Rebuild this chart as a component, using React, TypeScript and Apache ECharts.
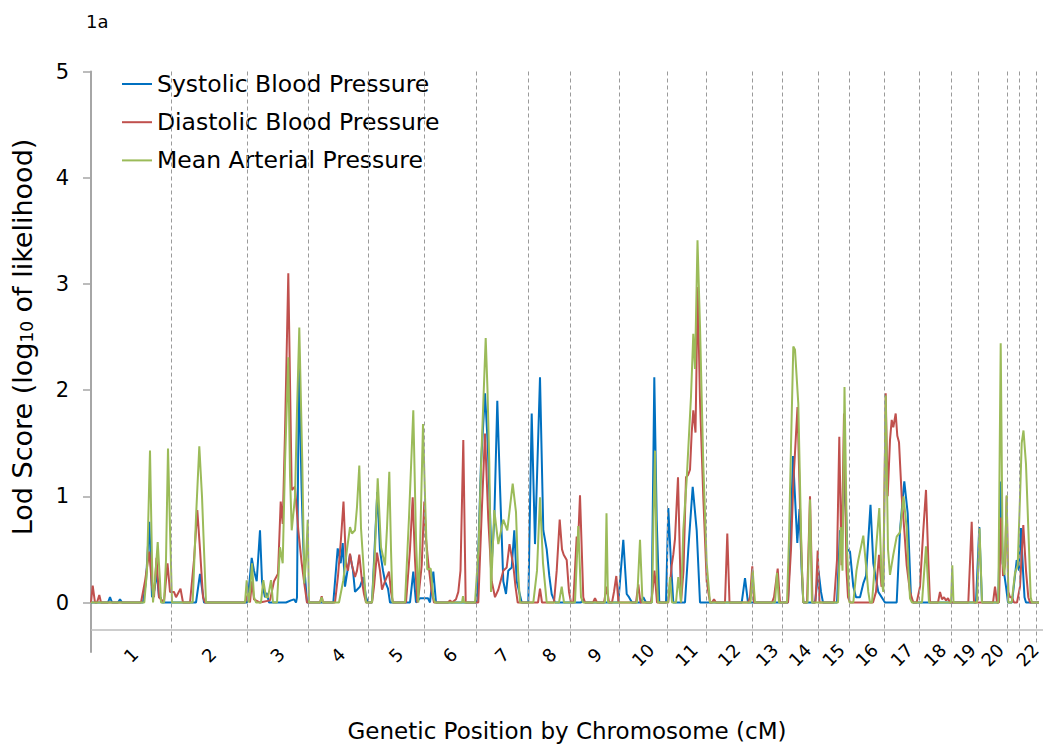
import React, { useEffect, useRef } from "react";
import * as echarts from "echarts";

// Chromosome names and their boundaries (genetic position, scaled cM units)
const chromosomes = ["1","2","3","4","5","6","7","8","9","10","11","12","13","14","15","16","17","18","19","20","21","22"];
const chromBounds = [0, 80, 156, 217, 277, 333, 385, 437, 479.5, 528, 576, 615, 661, 691, 727, 758, 793.5, 828, 860, 887, 916, 928, 945];
const yTicks = [0, 1, 2, 3, 4, 5];
const seriesNames = ["Systolic Blood Pressure", "Diastolic Blood Pressure", "Mean Arterial Pressure"];

// Systolic Blood Pressure LOD scores [position, LOD]
const sbp: number[][] = [
  [0,0],[17,0],[19,0.05],[21,0],[27,0],[29,0.03],[31,0],
  [52,0],[55,0.2],[58.3,0.76],[61,0.05],[63,0.1],[65.7,0.28],[68,0.05],[69.5,0.05],[71,0],
  [105,0],[109,0.27],[113,0],
  [156,0],[158,0.15],[160.7,0.42],[163,0.3],[165.7,0.2],[169,0.68],[171,0.2],[172.3,0.13],[174,0.05],[175.7,0.09],[178,0],
  [195,0],[200,0.02],[203,0.03],[205,0],[206,0.05],[208,2.27],[210.5,1.1],[212.3,0.52],[214,0.25],[216,0],
  [242.3,0],[246.7,0.51],[249.7,0.37],[251.7,0.56],[254,0.15],[259,0.45],[262,0.3],[264,0.1],[266,0.12],[269,0.15],[272.3,0.24],[275,0.05],[277,0],
  [281,0],[286.3,1.04],[289,0.49],[292,0.3],[294,0.2],[297,0.13],[299,0],
  [319,0],[322.3,0.29],[325,0],[329,0.04],[337,0.04],[339,0],[342.3,0.29],[345,0],
  [385.7,0],[390,1.31],[394,1.97],[396.7,1.5],[400.7,0.37],[403.3,0.78],[406.3,1.9],[409,1.09],[412.3,0.2],[415,0.08],[417.3,0.3],[420.7,0.33],[423.3,0.68],[425.7,0.2],[430.7,0],
  [437.3,0],[440.7,1.78],[444,0.55],[449,2.12],[452.3,0.68],[455.7,0.5],[458.3,0.25],[460.7,0.08],[464,0],
  [490,0],[492,0.03],[494,0],
  [527.3,0],[532.3,0.59],[535.7,0.08],[538,0.05],[541,0],[550,0],[552.3,0.05],[555,0],
  [560.7,0],[563.3,2.12],[565.7,0.78],[568.3,0],
  [575,0],[577.3,0.89],[580,0.37],[582.3,0],[594,0],[597.3,0.5],[601.7,1.09],[605.7,0.68],[609,0],
  [650.7,0],[654,0.23],[657,0],
  [697,0],[699.5,0.6],[702,1.38],[704.5,0.9],[706.3,0.56],[708.5,0.88],[710.7,0.3],[712.3,0],[724,0],[727.5,0.3],[730,0.1],[732,0],
  [746,0],[749,0.68],[751,0.6],[754,1.2],[756.3,0.5],[759,0.48],[762.3,0.15],[765,0.05],[769,0.05],[772.3,0.18],[775,0.25],[779.5,0.92],[782.3,0.37],[787.3,0.1],[794,0],
  [805.7,0],[809,0.68],[813.3,1.14],[816.7,0.84],[820,0.04],[822,0],
  [885,0],[888.3,0.71],[891,0],
  [907.3,0],[909.7,1.14],[911.7,0.37],[915,0.15],[917,0],
  [921,0],[925.7,0.4],[928,0.3],[930,0.7],[932,0.3],[933.5,0.05],[935,0],
  [948,0]
];

// Diastolic Blood Pressure LOD scores
const dbp: number[][] = [
  [0,0],[1.7,0.16],[4,0],[6,0],[8.3,0.07],[10,0],
  [50,0],[54,0.2],[58.3,0.48],[61,0.15],[63,0.05],[65.5,0.42],[68,0.05],[73,0],[76.5,0.37],[79,0.1],[81,0.1],[83,0.1],[85,0.05],[89.5,0.13],[92,0],
  [99,0],[103,0.4],[106.3,0.87],[109,0.5],[112,0.05],[114,0],
  [154,0],[157,0.08],[159,0],[161,0.2],[163,0.03],[169,0],[179,0.02],[183,0.2],[187,0.27],[189.7,0.95],[191.7,0.74],[194,1.6],[197.3,3.1],[200.7,1.06],[204,1.09],[207.3,0.68],[210.7,0.37],[213.3,0.18],[216,0],
  [229,0],[230.7,0.06],[232,0],[244,0],[247,0.25],[250,0.6],[252.5,0.95],[255,0.37],[257,0.3],[259,0.46],[261,0.35],[264,0.24],[266,0.3],[268.3,0.45],[271,0.2],[273,0.08],[275,0],
  [281,0],[283,0.15],[286,0.47],[289,0.3],[291,0.12],[294,0.2],[298,0.29],[300,0.1],[302,0],
  [315,0],[319,0.5],[321.7,0.99],[324,0.4],[326.3,0],[328,0.1],[330.7,0.35],[333.3,0.95],[335,0.6],[337.3,0.37],[340.7,0.1],[343,0],
  [357,0],[359,0.02],[361,0],[365,0.03],[367.3,0.1],[369.5,0.3],[372.3,1.53],[374.7,0],
  [387.3,0],[390.7,0.84],[394,1.59],[397.3,0.78],[400.7,0.2],[404,0.05],[407.3,0.12],[412.3,0.3],[415.7,0.33],[418.5,0.55],[422.3,0.35],[424.5,0.15],[426.7,0],
  [447,0],[449,0.13],[451,0],[463,0],[465.7,0.3],[468.7,0.78],[471,0.5],[472.7,0.45],[475.7,0.4],[478,0.1],[480,0],
  [482.3,0],[485.7,0.62],[487,0.55],[489,1.01],[492.3,0.05],[494,0],[502,0],[504,0.04],[506,0],[513,0],[515.7,0.15],[518,0],[521,0],[523,0.1],[525.3,0.25],[527.5,0],
  [545,0],[547.3,0.17],[549.5,0],[560,0],[561.5,0.1],[563.5,0.3],[566,0],
  [577.3,0],[580.7,0.35],[582.3,0.45],[584,0.6],[587,1.18],[590,0],[592.5,0.3],[595,1.18],[597,1.2],[599,1.25],[600.7,1.6],[602.3,1.81],[604.5,1.6],[606.7,2.97],[609,1.9],[612.3,0.99],[615.7,0.2],[619,0],
  [621,0],[623,0.03],[625,0],[634,0],[636.3,0.65],[638.5,0],
  [657,0],[659,0.05],[661.3,0.34],[663,0],[681,0],[683,0.05],[686.7,0.32],[689,0],
  [697,0],[700,0.5],[702.3,1.12],[706.5,1.84],[709,0.9],[711,0.3],[712.3,0],[716,0],[719,1.0],[721.5,0],[724.5,0],[726.7,0.49],[728.5,0],
  [743,0],[746,0.4],[748.3,1.56],[750.5,0.35],[753,1.78],[755.5,0.3],[757,0.05],[759,0],
  [782,0],[785,0.1],[788,0.45],[790.5,0.15],[792.3,0.2],[794.7,1.97],[796.7,1.0],[799,1.53],[800.7,1.72],[802.3,1.65],[804.7,1.78],[806.3,1.57],[808,1.51],[810.7,1.0],[813.3,0.68],[815.7,0.35],[819,0.1],[822.3,0],
  [825.7,0],[829,0.15],[832.3,0.68],[835,1.06],[837.3,0.4],[839,0],[847,0],[849,0.1],[851,0.03],[853,0.05],[855,0.02],[857,0.04],[859,0],
  [877.3,0],[880.7,0.76],[883,0],
  [902,0],[904,0.15],[906,0],[908,0],[910,0.8],[912,0.25],[914,0.35],[915.7,1.0],[917.3,0.1],[919,0.05],[921,0.05],[923,0],
  [926,0],[929,0.15],[932.3,0.73],[935,0.3],[937.3,0.05],[939,0],
  [948,0]
];

// Mean Arterial Pressure LOD scores
const map: number[][] = [
  [0,0],
  [53.3,0],[56,0.3],[59,1.43],[61,0.4],[62,0],[64,0.2],[66.7,0.57],[69,0.2],[70,0],[73,0],[75,0.4],[77,1.45],[79,0.7],[81,0],
  [101.7,0],[105,0.8],[108.3,1.47],[111,1.0],[115,0],
  [154,0],[155.7,0.21],[157.5,0],[159,0.1],[161,0.37],[163,0.05],[165,0],[170,0],[172.3,0.21],[175,0.05],[177,0.05],[180,0.21],[182,0],[186,0],[189,0.52],[191.7,0.37],[194,1.31],[197.3,2.31],[199,1.2],[200.7,0.68],[204,0.99],[206,1.8],[208.3,2.59],[211.3,1.31],[213.3,0.18],[215,0.4],[216.7,0.78],[218,0],
  [229,0],[230.7,0.05],[232,0],[248,0],[252.3,0.21],[256,0.5],[259,0.71],[261,0.65],[264,0.68],[266,0.9],[268.3,1.29],[270,0.7],[272.3,0.37],[275,0],
  [281,0],[284,0.5],[286.7,1.17],[290,0.52],[294,0.35],[296,0.7],[298.3,1.23],[300,0.5],[301.5,0],
  [314,0],[318,0.8],[322.3,1.81],[325,0.6],[327.3,0],[329,0.5],[332,1.68],[334,1.0],[336.3,0.31],[339.7,0.32],[342.3,0.05],[344,0],
  [371,0],[372,0.06],[373,0],
  [384,0],[387.5,0.5],[390.7,1.47],[394.7,2.49],[396.5,2.0],[398.3,1.31],[400,0.1],[403.3,0.87],[407.3,0.55],[412.3,0.78],[416.3,0.68],[419,0.9],[421.7,1.12],[425,0.85],[427,0.3],[429,0],
  [442.3,0],[446,0.3],[449,0.99],[452,0.37],[455.7,0],
  [468,0],[470.7,0.15],[473,0],
  [484,0],[487.3,0.72],[490,0.05],[492,0],[514,0],[515.5,0.84],[517,0],
  [546,0],[549,0.59],[551.5,0],[561,0],[562.5,0.8],[564,1.43],[565.7,0.3],[567,0],
  [577,0],[579,0.24],[581,0],[585,0],[587.3,0.24],[590,0],[592.3,0.68],[595.7,1.16],[600,1.94],[602.3,2.53],[604,2.2],[606.5,3.41],[609,2.6],[612.3,1.3],[615.7,0.37],[619,0],
  [659.5,0],[661.7,0.3],[664,0],[684,0],[686,0.28],[688,0],
  [696,0],[698,0.6],[700,1.47],[702.3,2.41],[704,2.38],[707.3,1.87],[710.7,0.37],[712.3,0],[716.5,0],[719,0.97],[721,0],
  [747,0],[749.7,0.71],[751.5,0.3],[753.5,2.03],[756,0.5],[758.5,0],[762.3,0],[765.5,0.3],[767.3,0.4],[772.3,0.63],[775,0.35],[777.3,0.1],[779,0],[781,0],[785,0.5],[788.3,0.89],[790.7,0.2],[792.3,0.1],[794.7,1.95],[797,0.5],[799,0.26],[802.3,0.45],[805.7,0.62],[809,0.66],[812.5,1.0],[815.7,0.7],[817.5,0.3],[819,0.04],[821,0],
  [831,0],[835,0.53],[838,0],
  [860,0],[861.3,0.35],[862.5,0],[886,0],[888.5,0.7],[891,0],
  [907.3,0],[909.7,2.44],[911.7,0.37],[913.5,0.26],[915.7,1.01],[917.3,0],
  [920.7,0],[924,0.28],[926.7,0.35],[929,0.99],[930.7,1.5],[932.5,1.62],[935,1.3],[937.3,0.7],[939.7,0.05],[941,0],
  [948,0]
];

const FONT = "DejaVu Sans";

export default function App() {
  const ref = useRef<HTMLDivElement>(null);

  useEffect(() => {
    if (!ref.current) return;
    const chart = echarts.init(ref.current, null, { renderer: "svg" });

    const yMin = -0.466;
    const yMax = 5;
    const xMin = 0;
    const xMax = 952;
    const axisLineVal = -0.259;
    const dashBottom = -0.381;

    const mids = chromosomes.map((_, i) => (chromBounds[i] + chromBounds[i + 1]) / 2);

    const dashed = chromBounds.slice(1).map((b) => [
      { coord: [b, yMax], lineStyle: { color: "#9a9a9a", width: 1, type: [4, 3] } },
      { coord: [b, dashBottom] },
    ]);
    const baseLine = [
      { coord: [xMin, axisLineVal], lineStyle: { color: "#bdbdbd", width: 1.5, type: "solid" } },
      { coord: [xMax, axisLineVal] },
    ];

    const colors = ["#0070c0", "#c0504d", "#9bbb59"];
    const datasets = [sbp, dbp, map];

    const option: any = {
      animation: false,
      backgroundColor: "#fff",
      grid: { left: 91, right: 7, top: 71.5, bottom: 100, containLabel: false, outerBoundsMode: "none" },
      xAxis: {
        type: "value",
        min: xMin,
        max: xMax,
        position: "bottom",
        axisLine: { show: false },
        axisTick: { show: false },
        splitLine: { show: false },
        axisLabel: {
          customValues: mids,
          showMinLabel: true,
          showMaxLabel: true,
          hideOverlap: false,
          rotate: 45,
          align: "center",
          verticalAlign: "middle",
          margin: 3,
          fontSize: 18,
          fontFamily: FONT,
          color: "#000",
          formatter: (v: number) => {
            let best = 0;
            for (let i = 0; i < mids.length; i++) {
              if (Math.abs(mids[i] - v) < Math.abs(mids[best] - v)) best = i;
            }
            return chromosomes[best];
          },
        },
      },
      yAxis: {
        type: "value",
        min: yMin,
        max: yMax,
        axisLine: { show: true, lineStyle: { color: "#a6a6a6", width: 2 } },
        axisTick: { show: true, customValues: yTicks, length: 8, lineStyle: { color: "#a6a6a6", width: 1.5 } },
        splitLine: { show: false },
        axisLabel: {
          customValues: yTicks,
          margin: 22,
          fontSize: 21,
          fontFamily: FONT,
          color: "#000",
        },
      },
      legend: {
        data: seriesNames,
        orient: "vertical",
        left: 114,
        top: 59,
        padding: [12, 30, 14, 8],
        backgroundColor: "#fff",
        icon: "rect",
        itemWidth: 30,
        itemHeight: 2,
        itemGap: 12.2,
        selectedMode: false,
        textStyle: { fontSize: 23.5, fontFamily: FONT, color: "#000", lineHeight: 26 },
      },
      graphic: [
        {
          type: "text",
          x: 86,
          y: 21,
          style: { text: "1a", fontSize: 18, fontFamily: FONT, fill: "#000", align: "left", verticalAlign: "middle" },
        },
        {
          type: "text",
          x: 567,
          y: 731,
          style: {
            text: "Genetic Position by Chromosome (cM)",
            fontSize: 23,
            fontFamily: FONT,
            fill: "#000",
            align: "center",
            verticalAlign: "middle",
          },
        },
        {
          type: "text",
          x: 22,
          y: 337,
          rotation: Math.PI / 2,
          style: {
            text: "Lod Score (log{sub|10} of likelihood)",
            fontSize: 27,
            fontFamily: FONT,
            fill: "#000",
            align: "center",
            verticalAlign: "middle",
            rich: {
              sub: { fontSize: 17, fontFamily: FONT, fill: "#000", verticalAlign: "bottom" },
            },
          },
        },
      ],
      series: [
        {
          type: "line",
          name: "frame",
          data: [],
          z: 1,
          silent: true,
          markLine: {
            silent: true,
            symbol: ["none", "none"],
            label: { show: false },
            emphasis: { disabled: true },
            data: [...dashed, baseLine],
          },
        },
        ...datasets.map((d, i) => ({
          type: "line",
          name: seriesNames[i],
          data: d,
          z: 2 + i,
          symbol: "none",
          showSymbol: false,
          smooth: false,
          color: colors[i],
          lineStyle: { color: colors[i], width: 2 },
          itemStyle: { color: colors[i] },
          emphasis: { disabled: true },
        })),
      ],
    };

    chart.setOption(option);
    return () => chart.dispose();
  }, []);

  return (
    <div
      ref={ref}
      style={{ position: "fixed", left: 0, top: 0, width: 1050, height: 752, background: "#fff" }}
    />
  );
}
